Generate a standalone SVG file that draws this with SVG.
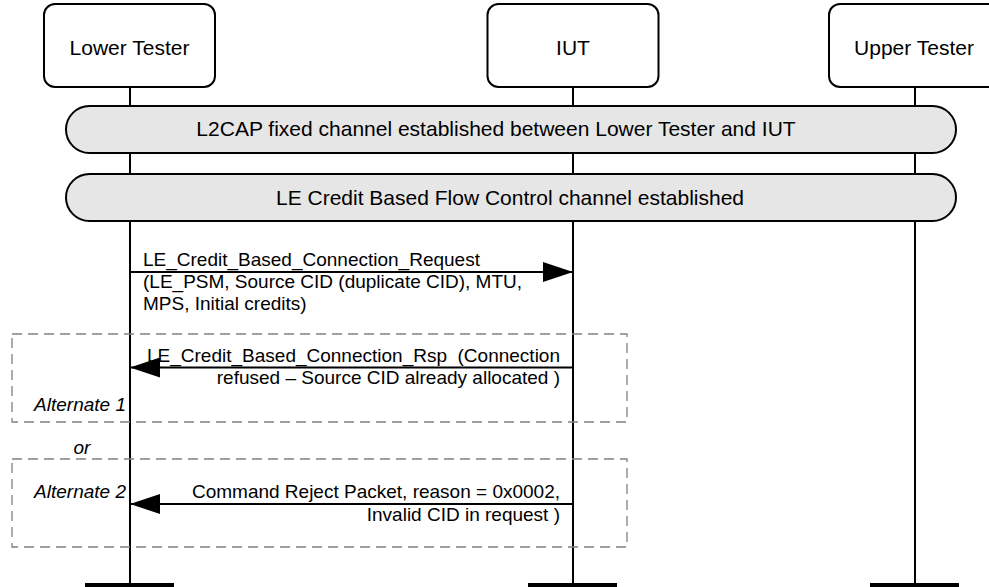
<svg xmlns="http://www.w3.org/2000/svg" width="989" height="587" viewBox="0 0 989 587">
<style>
  .box { fill: #ffffff; stroke: #000000; stroke-width: 2; }
  .band { fill: #e6e6e6; stroke: #000000; stroke-width: 2; }
  .life { stroke: #000000; stroke-width: 2; fill: none; }
  .endbar { fill: #000000; }
  .alt { fill: none; stroke: #808080; stroke-width: 1.3; stroke-dasharray: 10 6; }
  .msg { stroke: #000000; stroke-width: 2; fill: none; marker-end: url(#arrow); }
  .lbl { font-family: "Liberation Sans", Arial, sans-serif; font-size: 21px; fill: #000000; }
  .mt { font-family: "Liberation Sans", Arial, sans-serif; font-size: 19px; fill: #000000; }
  .it { font-family: "Liberation Sans", Arial, sans-serif; font-size: 19px; font-style: italic; fill: #000000; }
</style>
<defs>
  <marker id="arrow" markerUnits="userSpaceOnUse" markerWidth="30" markerHeight="20" refX="30" refY="10" orient="auto">
    <path d="M0,0 L30,10 L0,20 Z" fill="#000000"/>
  </marker>
</defs>
<rect width="989" height="587" fill="#ffffff"/>

<g id="lifelines">
  <line class="life" x1="130" y1="87" x2="130" y2="587"/>
  <line class="life" x1="573" y1="87" x2="573" y2="587"/>
  <line class="life" x1="915" y1="87" x2="915" y2="587"/>
  <rect class="endbar" x="85" y="583" width="89" height="6"/>
  <rect class="endbar" x="528" y="583" width="89" height="6"/>
  <rect class="endbar" x="870" y="583" width="89" height="6"/>
</g>

<g id="lower-tester">
  <rect class="box" x="44" y="4" width="171" height="83" rx="11"/>
  <text class="lbl" x="129.5" y="55" text-anchor="middle">Lower Tester</text>
</g>
<g id="iut">
  <rect class="box" x="487.5" y="4" width="171" height="83" rx="11"/>
  <text class="lbl" x="573" y="55" text-anchor="middle">IUT</text>
</g>
<g id="upper-tester">
  <rect class="box" x="829" y="4" width="172" height="83" rx="11"/>
  <text class="lbl" x="914" y="55" text-anchor="middle">Upper Tester</text>
</g>

<g id="band-l2cap">
  <rect class="band" x="66" y="106" width="890" height="47" rx="23.5"/>
  <text class="lbl" x="496" y="136" text-anchor="middle">L2CAP fixed channel established between Lower Tester and IUT</text>
</g>
<g id="band-lecb">
  <rect class="band" x="66" y="174" width="890" height="47" rx="23.5"/>
  <text class="lbl" x="510" y="205" text-anchor="middle">LE Credit Based Flow Control channel established</text>
</g>

<g id="alternate-1">
  <rect class="alt" x="12" y="334" width="615" height="88"/>
  <text class="it" x="126" y="411" text-anchor="end">Alternate 1</text>
</g>
<text class="it" x="82" y="454" text-anchor="middle">or</text>
<g id="alternate-2">
  <rect class="alt" x="12" y="459" width="615" height="88"/>
  <text class="it" x="126" y="498" text-anchor="end">Alternate 2</text>
</g>

<g id="connectors">
  <line class="msg" x1="130" y1="272" x2="573" y2="272"/>
  <line class="msg" x1="573" y1="367.5" x2="130" y2="367.5"/>
  <line class="msg" x1="573" y1="504" x2="130" y2="504"/>
</g>

<g id="message-labels">
  <text class="mt" x="143" y="266">LE_Credit_Based_Connection_Request</text>
  <text class="mt" x="143" y="288">(LE_PSM, Source CID (duplicate CID), MTU,</text>
  <text class="mt" x="143" y="310">MPS, Initial credits)</text>
  <text class="mt" x="560" y="362" text-anchor="end" xml:space="preserve">LE_Credit_Based_Connection_Rsp  (Connection</text>
  <text class="mt" x="560" y="383.5" text-anchor="end">refused – Source CID already allocated )</text>
  <text class="mt" x="560" y="498" text-anchor="end">Command Reject Packet, reason = 0x0002,</text>
  <text class="mt" x="560" y="520.5" text-anchor="end">Invalid CID in request )</text>
</g>
</svg>
